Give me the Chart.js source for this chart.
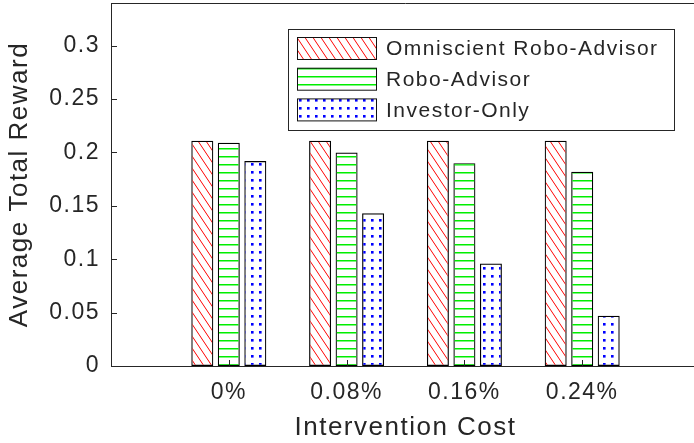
<!DOCTYPE html>
<html>
<head>
<meta charset="utf-8">
<script src="https://cdn.jsdelivr.net/npm/chart.js@4"></script>
<style>
    body { margin: 0; overflow: hidden; background: #fff; }
    #wrap { width: 700px; height: 443px; }
</style>
</head>
<body>
<div id="wrap"><canvas id="rewardChart"></canvas></div>
<script>
const costLabels = ['0%', '0.08%', '0.16%', '0.24%'];
const omniscientReward = [0.211, 0.211, 0.211, 0.211];
const roboReward = [0.209, 0.200, 0.190, 0.182];
const investorReward = [0.192, 0.143, 0.096, 0.047];
const yTickLabels = ['0', '0.05', '0.1', '0.15', '0.2', '0.25', '0.3'];

const textColor = '#262626';
const fontFamily = '"Liberation Sans", Arial, Helvetica, sans-serif';

function makePattern(kind) {
    const tile = document.createElement('canvas');
    const c = tile.getContext('2d');
    if (kind === 'hatch') {
        tile.width = 8; tile.height = 12;
        c.strokeStyle = '#ff0000';
        c.lineWidth = 1;
        for (let dx = -8; dx <= 8; dx += 8) {
            c.beginPath();
            c.moveTo(dx, 0);
            c.lineTo(dx + 8, 12);
            c.stroke();
        }
    } else if (kind === 'lines') {
        tile.width = 8; tile.height = 8;
        c.fillStyle = '#00ee00';
        c.fillRect(0, 4, 8, 1.5);
    } else {
        tile.width = 8; tile.height = 8;
        c.fillStyle = '#0000ff';
        c.fillRect(3, 3, 2.6, 2.6);
    }
    const main = document.createElement('canvas').getContext('2d');
    return main.createPattern(tile, 'repeat');
}

function toPoints(values) {
    return values.map((v, i) => ({ x: i + 1, y: v }));
}

// the original text is set a little loose
const spacingPlugin = {
    id: 'spacing',
    beforeDraw(chart) {
        chart.ctx.letterSpacing = '1.5px';
    }
};

// inward ticks, top frame line and the boxed legend
const framePlugin = {
    id: 'frame',
    afterDraw(chart) {
        const ctx = chart.ctx;
        const area = chart.chartArea;
        const xScale = chart.scales.x;
        const yScale = chart.scales.y;
        ctx.save();
        ctx.strokeStyle = textColor;
        ctx.lineWidth = 1;
        ctx.beginPath();
        ctx.moveTo(area.left, area.top + 0.5);
        ctx.lineTo(area.right, area.top + 0.5);
        for (let i = 1; i < yTickLabels.length; i++) {
            const y = Math.round(yScale.getPixelForValue(i * 0.05)) + 0.5;
            ctx.moveTo(area.left, y);
            ctx.lineTo(area.left + 6, y);
        }
        for (let i = 0; i < costLabels.length; i++) {
            const x = Math.round(xScale.getPixelForValue(i + 1)) + 0.5;
            ctx.moveTo(x, area.bottom);
            ctx.lineTo(x, area.bottom - 6);
        }
        ctx.stroke();

        // legend
        ctx.fillStyle = '#fff';
        ctx.fillRect(288, 29, 387, 102);
        ctx.strokeRect(288.5, 29.5, 386, 101);
        ctx.font = '21px ' + fontFamily;
        ctx.letterSpacing = '1.5px';
        ctx.textBaseline = 'middle';
        chart.data.datasets.forEach((ds, i) => {
            const top = 37 + i * 30.7;
            ctx.fillStyle = ds.backgroundColor;
            ctx.fillRect(297, top, 80, 23);
            ctx.strokeStyle = '#111';
            ctx.strokeRect(297.5, top + 0.5, 79, 22);
            ctx.fillStyle = textColor;
            ctx.fillText(ds.label, 386, top + 12.5);
        });
        ctx.restore();
    }
};

new Chart(document.getElementById('rewardChart'), {
    type: 'bar',
    data: {
        datasets: [
            { label: 'Omniscient Robo-Advisor', data: toPoints(omniscientReward), backgroundColor: makePattern('hatch') },
            { label: 'Robo-Advisor', data: toPoints(roboReward), backgroundColor: makePattern('lines') },
            { label: 'Investor-Only', data: toPoints(investorReward), backgroundColor: makePattern('dots') }
        ]
    },
    options: {
        responsive: true,
        maintainAspectRatio: false,
        animation: false,
        layout: { padding: { top: 3, right: 0, bottom: 0, left: 0 } },
        datasets: {
            bar: {
                borderColor: '#000',
                borderWidth: 1.2,
                borderSkipped: false,
                categoryPercentage: 0.675,
                barPercentage: 0.83
            }
        },
        plugins: {
            legend: { display: false },
            tooltip: { enabled: false }
        },
        scales: {
            x: {
                type: 'linear',
                offset: false,
                min: 0,
                max: 5,
                grid: { display: false, drawTicks: false },
                border: { display: true, color: textColor, width: 1 },
                ticks: {
                    stepSize: 1,
                    padding: 13,
                    color: textColor,
                    font: { family: fontFamily, size: 23 },
                    callback: v => costLabels[v - 1] || ''
                },
                title: {
                    display: true,
                    text: 'Intervention Cost',
                    color: textColor,
                    font: { family: fontFamily, size: 26 },
                    padding: { top: 0, bottom: 0 }
                },
                afterFit: scale => {
                    scale.height = 77;
                    scale.paddingLeft = 0;
                    scale.paddingRight = 0;
                }
            },
            y: {
                min: 0,
                max: 0.34,
                grid: { display: false, drawTicks: false },
                border: { display: true, color: textColor, width: 1 },
                ticks: {
                    stepSize: 0.05,
                    includeBounds: false,
                    padding: 11,
                    color: textColor,
                    font: { family: fontFamily, size: 23 },
                    callback: (v, i) => yTickLabels[i]
                },
                title: {
                    display: true,
                    text: 'Average Total Reward',
                    color: textColor,
                    font: { family: fontFamily, size: 26 },
                    padding: { top: 4, bottom: 0 }
                },
                afterFit: scale => {
                    scale.width = 111;
                    scale.paddingTop = 0;
                    scale.paddingBottom = 0;
                }
            }
        }
    },
    plugins: [spacingPlugin, framePlugin]
});
</script>
</body>
</html>
